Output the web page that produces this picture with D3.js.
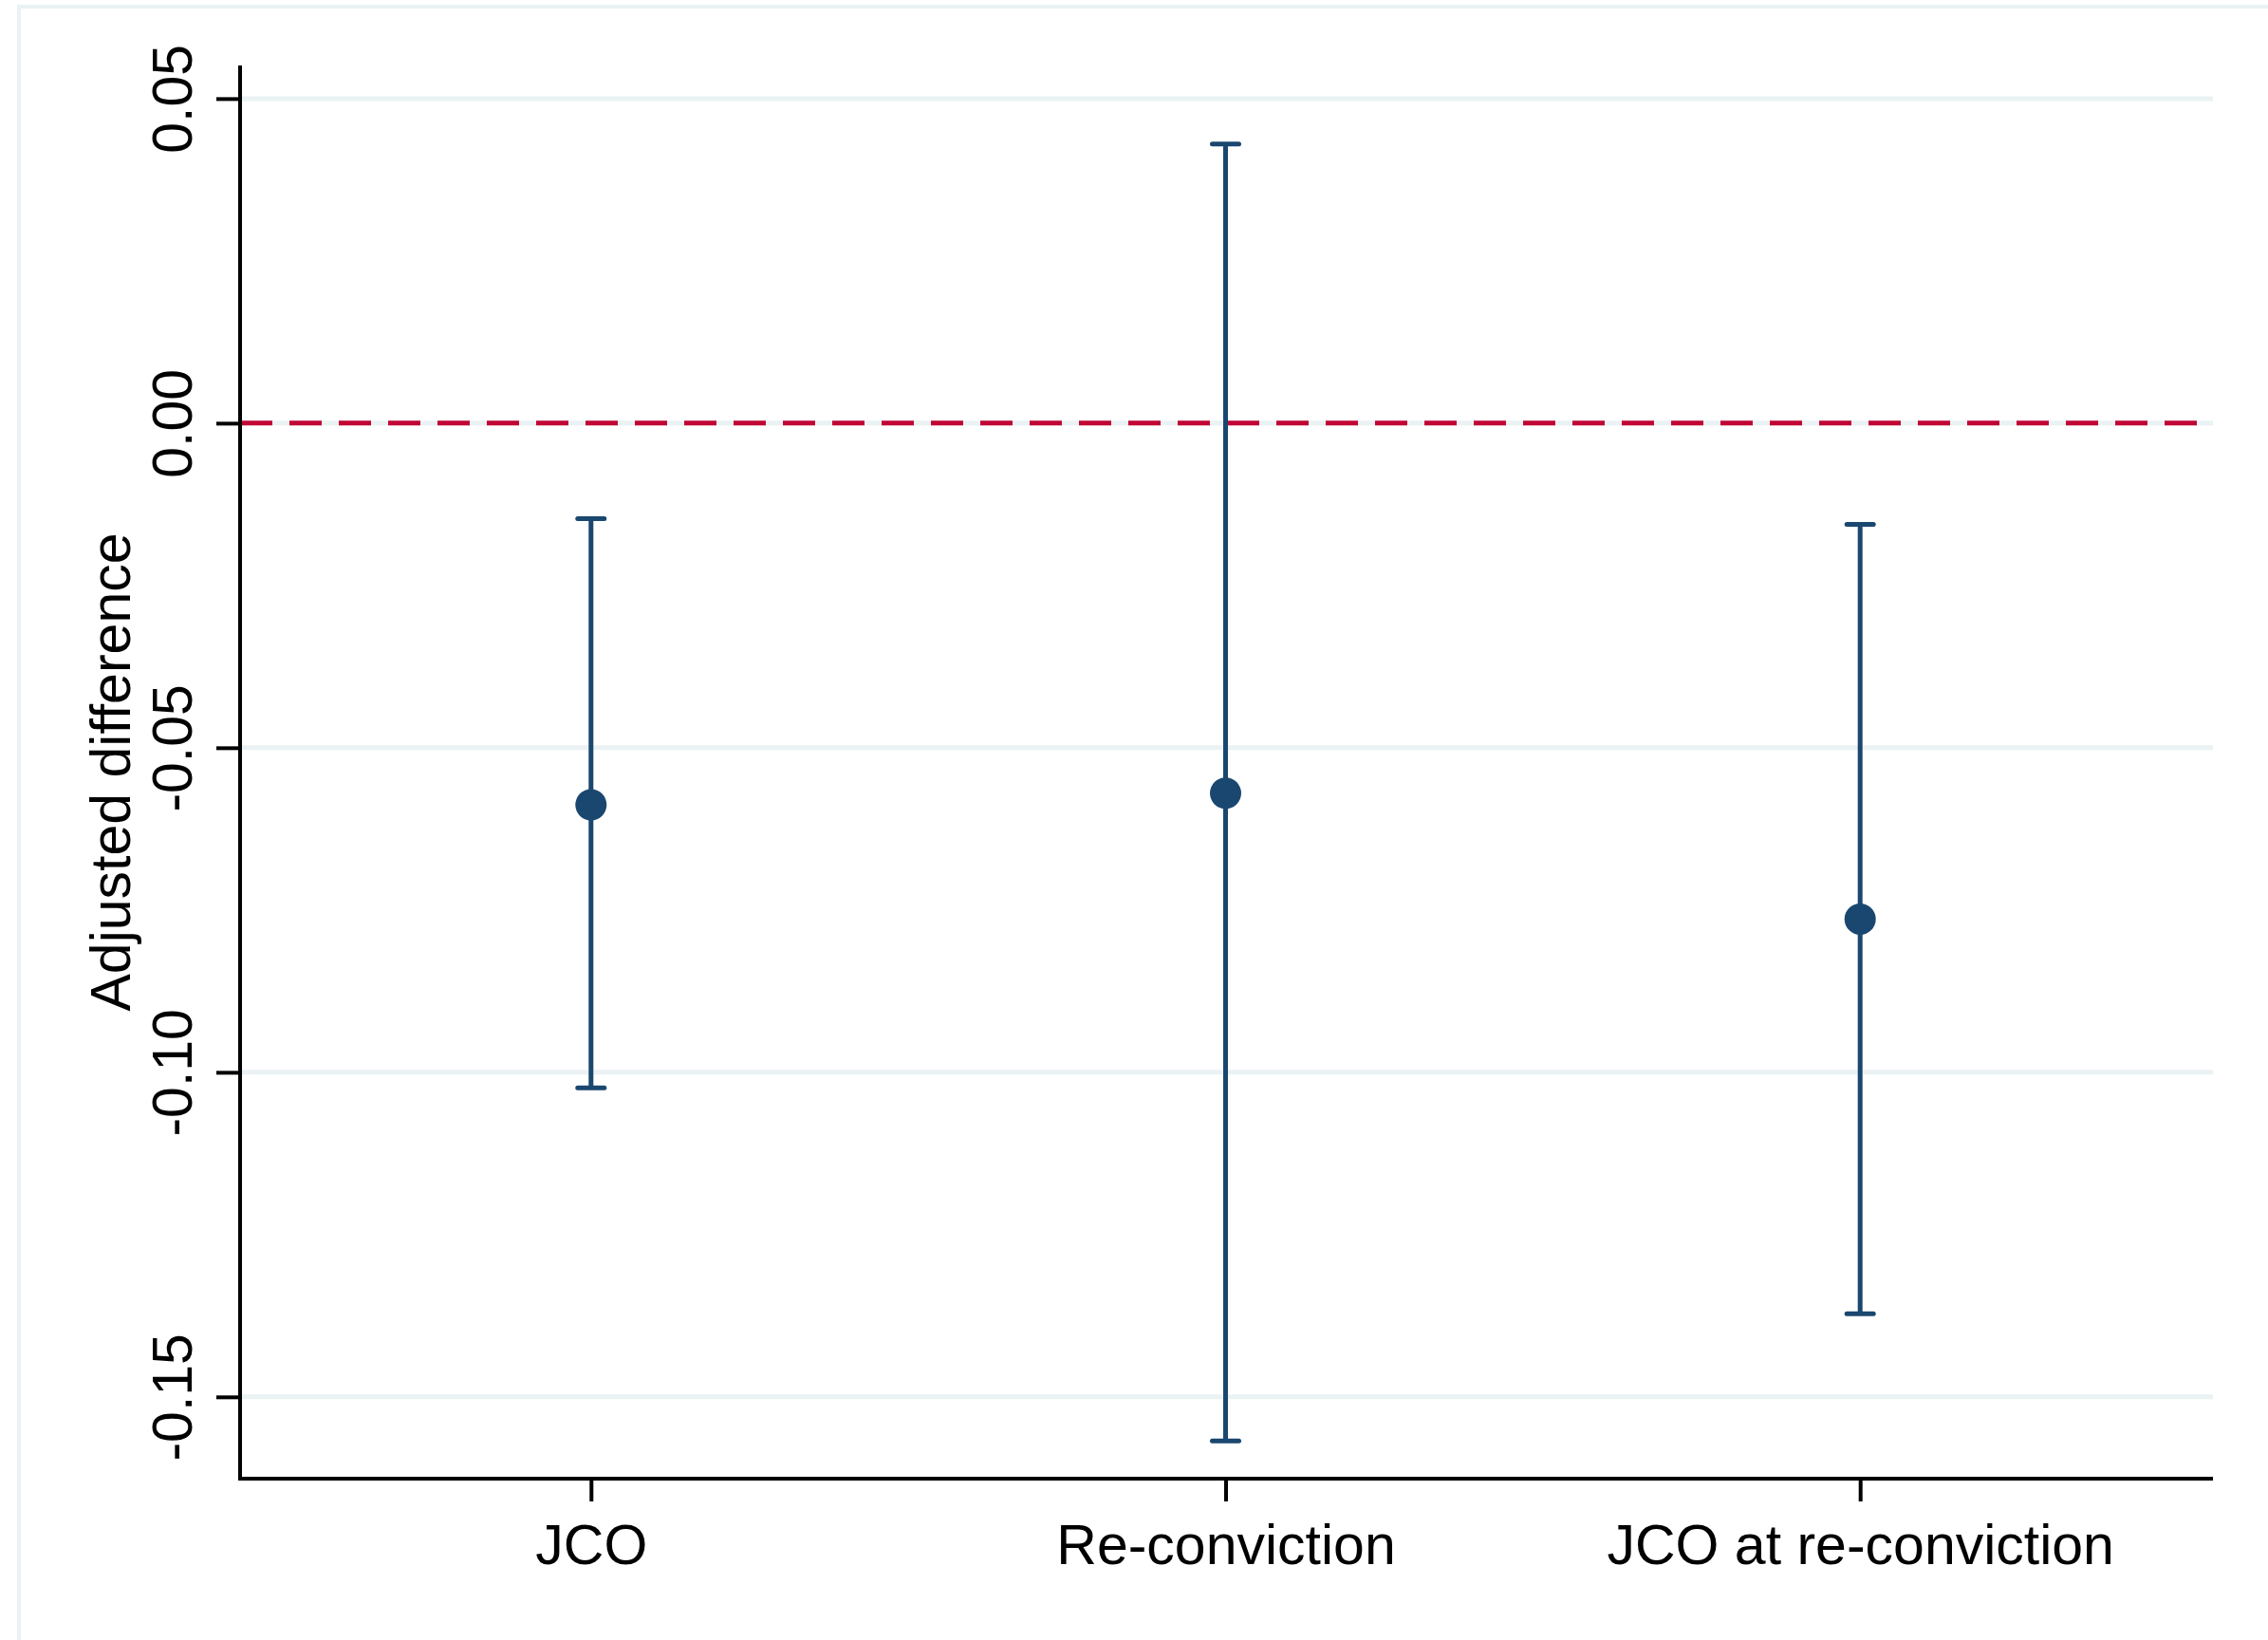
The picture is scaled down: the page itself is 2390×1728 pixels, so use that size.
<!DOCTYPE html>
<html>
<head>
<meta charset="utf-8">
<script src="https://cdn.jsdelivr.net/npm/d3@7"></script>
<style>
  html, body { margin: 0; padding: 0; background: #fff; }
  svg { display: block; font-family: 'Liberation Sans', Arial, Helvetica, sans-serif; }
</style>
</head>
<body>
<svg id="chart"></svg>
<script>
const width = 2390,
    height = 1728;

// data
const categories = ['JCO', 'Re-conviction', 'JCO at re-conviction'];
const estimates = [-0.0588, -0.0570, -0.0764];
const lowerCI = [-0.1024, -0.1568, -0.1372];
const upperCI = [-0.0147, 0.0430, -0.0156];
const yTicks = [0.05, 0.00, -0.05, -0.10, -0.15];

const navy = '#1a476f',
    red = '#c10534',
    grid = '#eaf2f3';

const plot = { left: 253, right: 2332, top: 69, bottom: 1558 };

const svg = d3.select('#chart').attr('width', width).attr('height', height);

// outer frame
svg.append('rect')
    .attr('x', 20).attr('y', 7)
    .attr('width', 2380).attr('height', 1740)
    .attr('fill', '#fff')
    .attr('stroke', grid)
    .attr('stroke-width', 4);

const y = d3.scaleLinear().domain([-0.1626, 0.0551]).range([plot.bottom, plot.top]);
const x = d3.scaleLinear().domain([0.447, 3.556]).range([plot.left, plot.right]);

// gridlines
svg.append('g')
    .selectAll('line')
    .data(yTicks)
    .enter()
    .append('line')
    .attr('x1', plot.left)
    .attr('x2', plot.right)
    .attr('y1', (d) => y(d))
    .attr('y2', (d) => y(d))
    .attr('stroke', grid)
    .attr('stroke-width', 5);

// reference line at zero
svg.append('line')
    .attr('x1', plot.left)
    .attr('x2', plot.right)
    .attr('y1', y(0))
    .attr('y2', y(0))
    .attr('stroke', red)
    .attr('stroke-width', 5)
    .attr('stroke-dasharray', '34,18');

// y axis (stata style: plain hyphen for minus)
const fmt = (d) => d3.format('.2f')(d).replace('\u2212', '-');
const yAxis = svg.append('g')
    .attr('transform', `translate(${plot.left},0)`)
    .call(d3.axisLeft(y).tickValues(yTicks).tickSize(25).tickFormat(fmt).tickPadding(26));
yAxis.select('.domain').remove();
yAxis.selectAll('.tick line').attr('stroke', '#000').attr('stroke-width', 4);
yAxis.selectAll('.tick text')
    .attr('transform', 'rotate(-90)')
    .attr('x', 0)
    .attr('y', -51)
    .attr('dy', 0)
    .attr('text-anchor', 'middle')
    .style('font-size', '59px')
    .attr('fill', '#000');
svg.append('line')
    .attr('x1', plot.left).attr('x2', plot.left)
    .attr('y1', plot.top).attr('y2', plot.bottom + 2)
    .attr('stroke', '#000').attr('stroke-width', 4);

// x axis
const xAxis = svg.append('g')
    .attr('transform', `translate(0,${plot.bottom})`)
    .call(d3.axisBottom(x).tickValues([1, 2, 3]).tickSize(24).tickFormat((d) => categories[d - 1]).tickPadding(8));
xAxis.select('.domain').remove();
xAxis.selectAll('.tick line').attr('stroke', '#000').attr('stroke-width', 4);
xAxis.selectAll('.tick text')
    .attr('y', 90)
    .attr('dy', 0)
    .style('font-size', '59px')
    .attr('fill', '#000');
svg.append('line')
    .attr('x1', plot.left - 2).attr('x2', plot.right)
    .attr('y1', plot.bottom).attr('y2', plot.bottom)
    .attr('stroke', '#000').attr('stroke-width', 4);

// y axis title
svg.append('text')
    .attr('transform', `translate(137,${(plot.top + plot.bottom) / 2}) rotate(-90)`)
    .attr('text-anchor', 'middle')
    .style('font-size', '59px')
    .attr('fill', '#000')
    .text('Adjusted difference');

// error bars
const bars = svg.append('g')
    .selectAll('g')
    .data(categories.map((c, i) => ({ c, i, est: estimates[i], lo: lowerCI[i], hi: upperCI[i] })))
    .enter()
    .append('g');

bars.append('line')
    .attr('x1', (d) => x(d.i + 1))
    .attr('x2', (d) => x(d.i + 1))
    .attr('y1', (d) => y(d.lo))
    .attr('y2', (d) => y(d.hi))
    .attr('stroke', navy)
    .attr('stroke-width', 5);

bars.selectAll('.cap')
    .data((d) => [d.lo, d.hi].map((v) => ({ v, i: d.i })))
    .enter()
    .append('line')
    .attr('class', 'cap')
    .attr('x1', (d) => x(d.i + 1) - 14)
    .attr('x2', (d) => x(d.i + 1) + 14)
    .attr('y1', (d) => y(d.v))
    .attr('y2', (d) => y(d.v))
    .attr('stroke', navy)
    .attr('stroke-width', 5)
    .attr('stroke-linecap', 'round');

bars.append('circle')
    .attr('cx', (d) => x(d.i + 1))
    .attr('cy', (d) => y(d.est))
    .attr('r', 16.5)
    .attr('fill', navy);
</script>
</body>
</html>
